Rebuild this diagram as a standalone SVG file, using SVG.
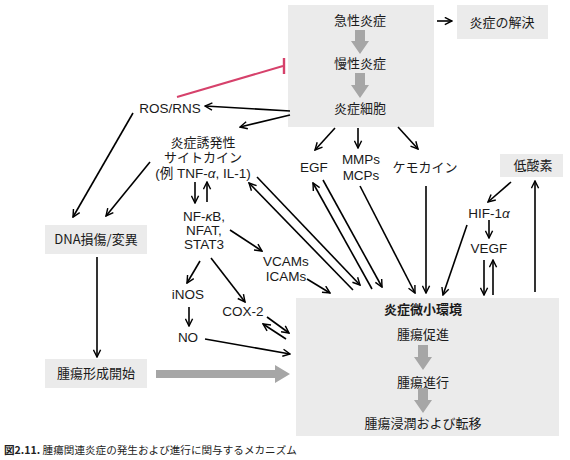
<svg xmlns="http://www.w3.org/2000/svg" width="570" height="460" viewBox="0 0 570 460">
<defs>
<style>
.box{fill:#ebebeb}
.jp{font-family:"Noto Sans CJK JP","Liberation Sans",sans-serif;font-size:13px;fill:#1a1a1a;text-anchor:middle}
.lt{font-family:"Liberation Sans","Noto Sans CJK JP",sans-serif;font-size:13.5px;fill:#1a1a1a;text-anchor:middle}
.lj{font-family:"Liberation Sans","Noto Sans CJK JP",sans-serif;font-size:13px;fill:#1a1a1a;text-anchor:middle}
.ln{stroke:#000;stroke-width:1.6;fill:none;marker-end:url(#ah)}
.big{fill:#a6a6a6}
</style>
<marker id="ah" viewBox="0 0 10 10" refX="9" refY="5" markerWidth="9" markerHeight="9" markerUnits="userSpaceOnUse" orient="auto">
<path d="M1,1 L9,5 L1,9" fill="none" stroke="#000" stroke-width="1.6"/>
</marker>
</defs>
<rect width="570" height="460" fill="#fff"/>

<g id="inflam-top">
<rect class="box" x="288" y="5" width="146" height="122"/>
<text class="jp" x="360" y="25">急性炎症</text>
<polygon class="big" points="355,30 365,30 365,41 369,41 360,54 351,41 355,41"/>
<text class="jp" x="360" y="68">慢性炎症</text>
<polygon class="big" points="355,73 365,73 365,85 369,85 360,98 351,85 355,85"/>
<text class="jp" x="360" y="113">炎症細胞</text>
</g>
<g id="resolution">
<rect class="box" x="457" y="5" width="91" height="34"/>
<text class="jp" x="502" y="27">炎症の解決</text>
</g>
<g id="hypoxia">
<rect class="box" x="500" y="154" width="63" height="23"/>
<text class="jp" x="533" y="170">低酸素</text>
</g>
<g id="dna">
<rect class="box" x="45" y="225" width="102" height="29"/>
<text class="jp" x="96" y="244">DNA損傷/変異</text>
</g>
<g id="tumor-init">
<rect class="box" x="45" y="359" width="102" height="29"/>
<text class="jp" x="96" y="378">腫瘍形成開始</text>
</g>
<g id="microenv">
<rect class="box" x="296" y="298" width="263" height="138"/>
<text class="jp" x="423" y="314" font-weight="bold">炎症微小環境</text>
<text class="jp" x="423" y="339">腫瘍促進</text>
<polygon class="big" points="418,345 428,345 428,357 432,357 423,370 414,357 418,357"/>
<text class="jp" x="423" y="387">腫瘍進行</text>
<polygon class="big" points="418,388 428,388 428,400 432,400 423,413 414,400 418,400"/>
<text class="jp" x="423" y="428">腫瘍浸潤および転移</text>
</g>

<g id="ros"><text class="lt" x="170" y="113">ROS/RNS</text></g>
<g id="cytokine">
<text class="lj" x="203" y="147">炎症誘発性</text>
<text class="lj" x="203" y="162">サイトカイン</text>
<text class="lt" x="203" y="178">(例 TNF-<tspan font-style="italic">α</tspan>, IL-1)</text>
</g>
<g id="nfkb">
<text class="lt" x="204" y="221">NF-<tspan font-style="italic">κ</tspan>B,</text>
<text class="lt" x="204" y="235">NFAT,</text>
<text class="lt" x="204" y="249">STAT3</text>
</g>
<g id="cams">
<text class="lt" x="286" y="266">VCAMs</text>
<text class="lt" x="286" y="281">ICAMs</text>
</g>
<g id="inos"><text class="lt" x="188" y="299">iNOS</text></g>
<g id="no"><text class="lt" x="188" y="342">NO</text></g>
<g id="cox2"><text class="lt" x="243" y="316">COX-2</text></g>
<g id="egf"><text class="lt" x="314" y="172">EGF</text></g>
<g id="mmps">
<text class="lt" x="361" y="164">MMPs</text>
<text class="lt" x="361" y="180">MCPs</text>
</g>
<g id="chemokine"><text class="jp" x="425" y="172">ケモカイン</text></g>
<g id="hif"><text class="lt" x="489" y="218">HIF-1<tspan font-style="italic">α</tspan></text></g>
<g id="vegf"><text class="lt" x="489" y="253">VEGF</text></g>

<g id="caption">
<text x="4" y="454" font-family="'Noto Sans CJK JP','Liberation Sans',sans-serif" font-size="10.6" fill="#222"><tspan font-weight="bold">図2.11.</tspan> 腫瘍関連炎症の発生および進行に関与するメカニズム</text>
</g>

<g id="connectors">
<line x1="283" y1="66" x2="177" y2="97" stroke="#d6416b" stroke-width="2"/>
<line x1="284" y1="58" x2="284" y2="74" stroke="#d6416b" stroke-width="2.4"/>
<line class="ln" x1="437" y1="21" x2="452" y2="21"/>
<line class="ln" x1="290" y1="111" x2="205" y2="106"/>
<line class="ln" x1="290" y1="115" x2="240" y2="127"/>
<line class="ln" x1="335" y1="128" x2="315" y2="150"/>
<line class="ln" x1="358" y1="128" x2="358" y2="148"/>
<line class="ln" x1="398" y1="127" x2="418" y2="149"/>
<line class="ln" x1="133" y1="113" x2="73" y2="217"/>
<line class="ln" x1="150" y1="162" x2="106" y2="216"/>
<line class="ln" x1="97" y1="257" x2="97" y2="357"/>
<polygon class="big" points="156,370 275,370 275,365 290,374 275,383 275,378 156,378"/>
<line class="ln" x1="195" y1="182" x2="195" y2="203"/>
<line class="ln" x1="207" y1="202" x2="207" y2="182"/>
<line class="ln" x1="230" y1="230" x2="262" y2="251"/>
<line class="ln" x1="200" y1="261" x2="187" y2="283"/>
<line class="ln" x1="211" y1="258" x2="245" y2="302"/>
<line class="ln" x1="307" y1="279" x2="330" y2="293"/>
<line class="ln" x1="189" y1="307" x2="189" y2="326"/>
<line class="ln" x1="205" y1="339" x2="290" y2="354"/>
<line class="ln" x1="267" y1="317" x2="289" y2="333"/>
<line class="ln" x1="286" y1="339" x2="263" y2="324"/>
<line class="ln" x1="257" y1="177" x2="360" y2="285"/>
<line class="ln" x1="353" y1="290" x2="249" y2="183"/>
<line class="ln" x1="323" y1="180" x2="382" y2="287"/>
<line class="ln" x1="372" y1="289" x2="313" y2="183"/>
<line class="ln" x1="360" y1="186" x2="415" y2="293"/>
<line class="ln" x1="426" y1="186" x2="426" y2="293"/>
<line class="ln" x1="511" y1="182" x2="488" y2="202"/>
<line class="ln" x1="489" y1="220" x2="489" y2="238"/>
<line class="ln" x1="467" y1="225" x2="443" y2="295"/>
<line class="ln" x1="484" y1="260" x2="484" y2="295"/>
<line class="ln" x1="493" y1="295" x2="493" y2="260"/>
<line class="ln" x1="535" y1="292" x2="535" y2="181"/>
</g>
</svg>
